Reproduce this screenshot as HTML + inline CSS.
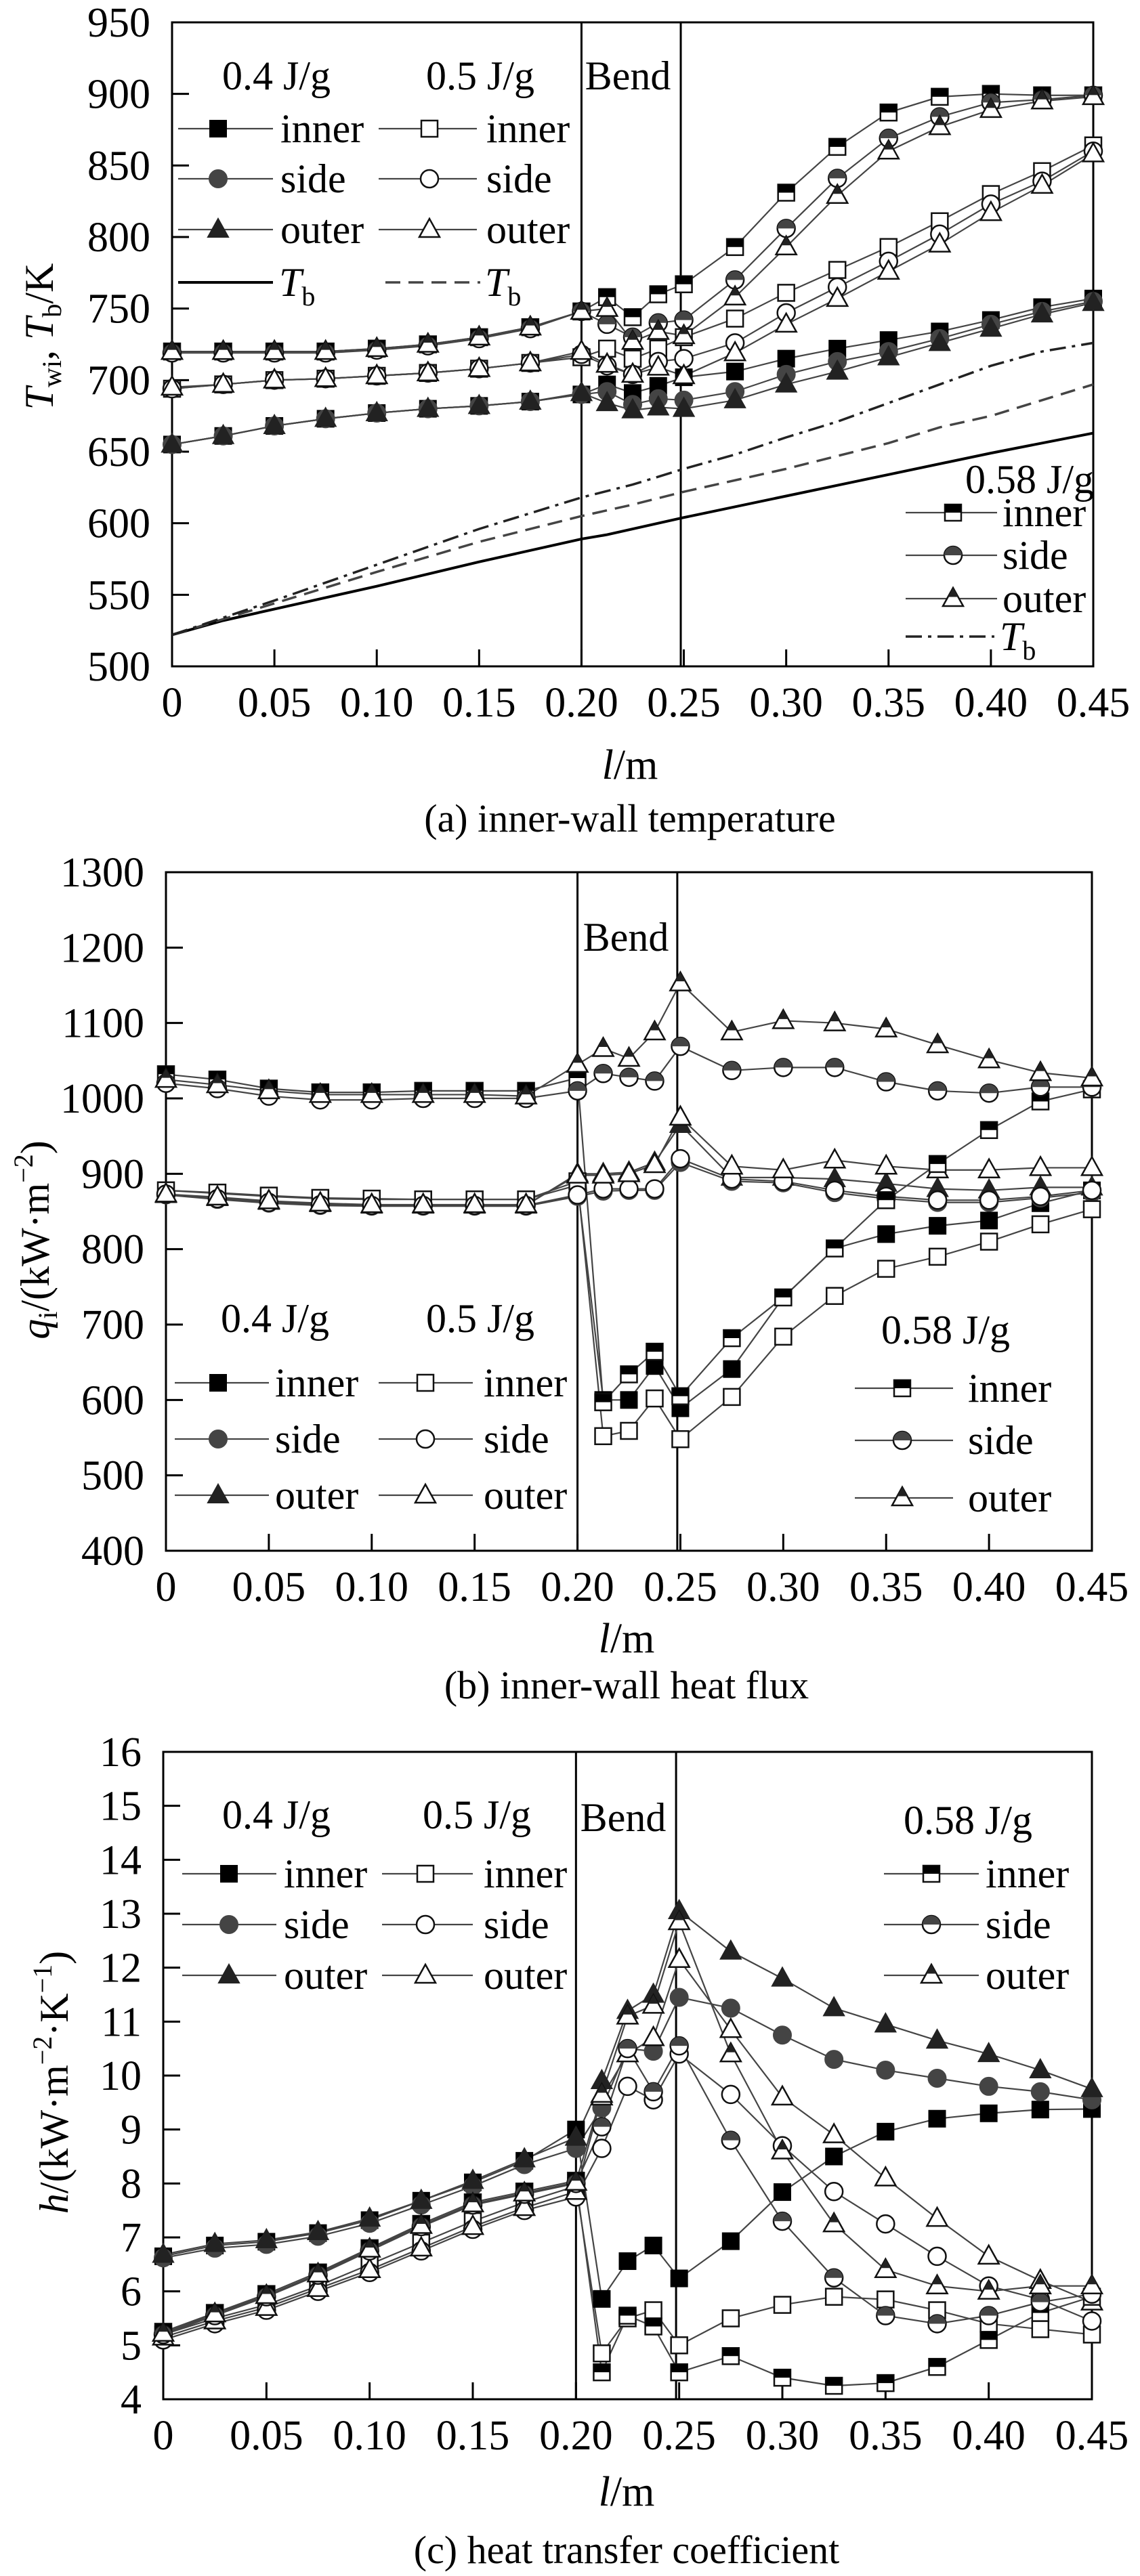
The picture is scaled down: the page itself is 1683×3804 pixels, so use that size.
<!DOCTYPE html>
<html><head><meta charset="utf-8"><style>
html,body{margin:0;padding:0;background:#fff;}
svg{display:block;font-family:"Liberation Serif",serif;}
</style></head><body>
<svg id="fig" width="1683" height="3804" viewBox="0 0 1683 3804" xmlns="http://www.w3.org/2000/svg" font-family="Liberation Serif, serif">
<defs><clipPath id="topHalf" clipPathUnits="objectBoundingBox"><rect x="-0.1" y="-0.1" width="1.2" height="0.6"/></clipPath></defs>
</svg>
<script>
// ---------- shared x positions (l / m) ----------
const xs = [0,0.025,0.05,0.075,0.1,0.125,0.15,0.175,0.2,0.2125,0.225,0.2375,0.25,0.275,0.3,0.325,0.35,0.375,0.4,0.425,0.45];

// ---------- (a) inner-wall temperature, K ----------
const aIn04  = [655,661,668,673,677,680,682,685,690,697,691,696,702,706,715,722,728,734,742,751,757];
const aSi04  = [655,661,668,673,677,680,682,685,690,692,683,687,686,692,704,713,720,729,739,748,755];
const aOu04  = [655,661,668,673,677,680,682,685,691,684,679,681,680,686,697,706,716,726,736,746,754];
const aIn05  = [694,697,700,701,703,705,708,712,716,722,715,722,730,743,761,777,793,811,830,846,864];
const aSi05  = [694,697,700,701,703,705,708,712,718,710,704,713,715,726,747,765,783,802,823,839,860];
const aOu05  = [695,697,700,701,703,705,708,712,720,711,704,709,703,719,739,757,776,795,817,836,858];
const aIn058 = [720,720,720,720,722,725,730,737,748,758,744,760,767,793,831,863,887,898,900,899,899];
const aSi058 = [719,719,719,719,721,724,729,736,748,739,730,740,742,770,806,841,869,884,894,896,899];
const aOu058 = [720,720,720,720,722,725,730,737,748,750,727,734,731,758,793,829,860,877,889,895,898];
const tbX04  = [0,0.025,0.05,0.1,0.15,0.2,0.2125,0.25,0.3,0.35,0.4,0.45];
const tb04   = [522,532,540,556,573,589,592,604,619,634,649,663];
const tbX05  = [0,0.05,0.1,0.15,0.2,0.225,0.25,0.3,0.35,0.375,0.4,0.425,0.45];
const tb05   = [522,544,566,587,605,613,622,638,656,667,675,686,697];
const tbX058 = [0,0.05,0.1,0.15,0.2,0.225,0.25,0.275,0.3,0.325,0.35,0.375,0.4,0.425,0.45];
const tb058  = [522,546,571,596,618,627,638,648,660,671,684,697,710,720,726];
const aTicks = [500,550,600,650,700,750,800,850,900,950];

// ---------- (b) inner-wall heat flux, kW/m2 ----------
const bIn04  = [878,874,870,867,866,866,866,866,885,600,600,645,589,641,736,801,820,831,838,861,878];
const bSi04  = [872,866,861,858,857,857,857,857,870,877,878,878,915,890,888,875,867,862,862,868,875];
const bOu04  = [872,868,863,860,858,858,858,858,900,900,902,915,965,895,895,893,887,880,878,882,882];
const bIn05  = [878,875,871,868,867,866,866,866,890,552,559,602,548,604,684,738,774,790,810,833,853];
const bSi05  = [873,867,862,859,858,858,858,858,872,880,880,880,920,893,890,878,870,865,865,870,878];
const bOu05  = [873,869,864,861,859,859,859,859,898,898,900,912,975,910,905,918,910,905,905,908,908];
const bIn058 = [1032,1025,1013,1008,1008,1010,1010,1010,1027,597,634,664,605,682,736,801,865,913,958,996,1012];
const bSi058 = [1020,1013,1003,998,998,1000,1000,1000,1010,1033,1028,1023,1069,1037,1041,1041,1022,1010,1007,1015,1015];
const bOu058 = [1025,1018,1010,1005,1005,1005,1005,1003,1045,1066,1053,1088,1153,1088,1103,1100,1092,1071,1051,1034,1027];
const bTicks = [400,500,600,700,800,900,1000,1100,1200,1300];

// ---------- (c) heat transfer coefficient ----------
const cIn04  = [6.65,6.85,6.92,7.08,7.32,7.68,8.02,8.42,9.0,5.86,6.56,6.85,6.24,6.93,7.84,8.5,8.96,9.2,9.3,9.37,9.38];
const cSi04  = [6.62,6.8,6.87,7.02,7.26,7.6,7.95,8.35,8.65,9.4,10.5,10.45,11.45,11.25,10.75,10.3,10.1,9.95,9.8,9.7,9.55];
const cOu04  = [6.68,6.88,6.95,7.1,7.35,7.68,8.05,8.45,8.85,9.9,11.2,11.5,13.05,12.3,11.8,11.25,10.95,10.65,10.4,10.1,9.75];
const cIn05  = [5.2,5.5,5.75,6.1,6.5,6.9,7.3,7.65,7.95,4.85,5.5,5.65,5.0,5.5,5.75,5.9,5.85,5.65,5.4,5.3,5.2];
const cSi05  = [5.1,5.4,5.65,6.0,6.35,6.75,7.15,7.5,7.75,8.65,9.8,9.55,10.4,9.65,8.7,7.85,7.25,6.65,6.1,5.85,5.45];
const cOu05  = [5.15,5.45,5.7,6.05,6.4,6.8,7.2,7.55,7.85,9.6,10.4,10.7,12.15,10.85,9.6,8.9,8.1,7.35,6.65,6.2,5.8];
const cIn058 = [5.25,5.6,5.95,6.35,6.8,7.25,7.65,7.85,8.05,4.5,5.55,5.35,4.5,4.8,4.4,4.25,4.3,4.6,5.1,5.6,5.9];
const cSi058 = [5.2,5.55,5.9,6.3,6.75,7.2,7.6,7.8,8.0,9.05,10.5,9.7,10.55,8.8,7.3,6.25,5.55,5.4,5.55,5.8,5.95];
const cOu058 = [5.22,5.58,5.92,6.32,6.78,7.22,7.62,7.82,8.02,9.65,11.1,11.3,12.85,10.4,8.6,7.25,6.4,6.1,6.0,6.1,6.1];
const cTicks = [4,5,6,7,8,9,10,11,12,13,14,15,16];

const xTicks = [0,0.05,0.10,0.15,0.20,0.25,0.30,0.35,0.40,0.45];
const xTickLabels = ["0","0.05","0.10","0.15","0.20","0.25","0.30","0.35","0.40","0.45"];
const bendX = [0.2,0.2485];

const NS = "http://www.w3.org/2000/svg";
const FONT = "Liberation Serif, serif";
const svg = document.getElementById('fig');
function el(tag, attrs, parent){
  const e = document.createElementNS(NS, tag);
  for (const k in attrs) e.setAttribute(k, attrs[k]);
  (parent||svg).appendChild(e);
  return e;
}
function txt(parent, x, y, s, size, anchor){
  const t = el('text', {x:x, y:y, 'font-size':size||60, 'font-family':FONT, 'text-anchor':anchor||'start', fill:'#000'}, parent);
  t.textContent = s;
  return t;
}
const DARK = {sq:'#000', ci:'#444', tr:'#222'};
function marker(g, shape, fill, cx, cy){
  let attrs;
  let tag;
  if (shape==='sq'){ tag='rect'; attrs={x:cx-12,y:cy-12,width:24,height:24}; }
  else if (shape==='ci'){ tag='circle'; attrs={cx:cx,cy:cy,r:13}; }
  else { tag='polygon'; attrs={points:(cx)+','+(cy-16)+' '+(cx-15)+','+(cy+11)+' '+(cx+15)+','+(cy+11)}; }
  const base = Object.assign({}, attrs);
  if (fill==='full'){ base.fill=DARK[shape]; base.stroke=DARK[shape]; base['stroke-width']=2; }
  else { base.fill='#fff'; base.stroke='#111'; base['stroke-width']=2.5; }
  const m = el(tag, base, g);
  
  
  if (fill==='half'){
    const h = Object.assign({}, attrs);
    h.fill=DARK[shape]; h['clip-path']='url(#topHalf)';
    const m2 = el(tag, h, g);
    
    
  }
}

function chart(cfg){
  const g = el('g', {});
  
  
  const sx = v => cfg.L + (v-0)/(0.45)*(cfg.R-cfg.L);
  const sy = v => cfg.B - (v-cfg.ymin)/(cfg.ymax-cfg.ymin)*(cfg.B-cfg.T);
  const fr = el('rect', {x:cfg.L,y:cfg.T,width:cfg.R-cfg.L,height:cfg.B-cfg.T,fill:'none',stroke:'#000','stroke-width':3}, g);
  
  
  cfg.yt.forEach(v=>{
    const y = sy(v);
    if (v!==cfg.ymin && v!==cfg.ymax){
      const t = el('line',{x1:cfg.L,y1:y,x2:cfg.L+25,y2:y,stroke:'#000','stroke-width':3},g);
      
      
    }
    const lb = txt(g, cfg.L-32, y+21, String(v), 62, 'end');
    
    
  });
  xTicks.forEach((v,i)=>{
    const x = sx(v);
    if (i>0 && i<xTicks.length-1){
      const t = el('line',{x1:x,y1:cfg.B,x2:x,y2:cfg.B-25,stroke:'#000','stroke-width':3},g);
      
      
    }
    const lb = txt(g, x, cfg.B+74, xTickLabels[i], 62, 'middle');
    
    
  });
  bendX.forEach(v=>{
    const l = el('line',{x1:sx(v),y1:cfg.T,x2:sx(v),y2:cfg.B,stroke:'#000','stroke-width':3},g);
    
    
  });
  const bt = txt(g, cfg.bendTx, cfg.bendTy, 'Bend', 60, 'middle');
  
  
  (cfg.lines||[]).forEach(ln=>{
    const pts = ln.x.map((v,i)=>sx(v)+','+sy(ln.y[i])).join(' ');
    const p = el('polyline',{points:pts,fill:'none',stroke:ln.color,'stroke-width':ln.w,'stroke-dasharray':ln.dash||'none'},g);
    
    
  });
  cfg.series.forEach(s=>{
    const pts = xs.map((v,i)=>sx(v)+','+sy(s.y[i])).join(' ');
    const p = el('polyline',{points:pts,fill:'none',stroke:'#444','stroke-width':2.2},g);
    
    
  });
  cfg.series.forEach(s=>{
    const mg = el('g',{},g);
    
    
    xs.forEach((v,i)=>marker(mg, s.shape, s.fill, sx(v), sy(s.y[i])));
  });
  return {g, sx, sy};
}

function legendRow(g, x1, x2, mx, tx, y, shape, fill, label){
  const l = el('line',{x1:x1,y1:y,x2:x2,y2:y,stroke:'#444','stroke-width':2.2},g);
  
  
  marker(g, shape, fill, mx, y);
  const t = txt(g, tx, y+20, label, 60, 'start');
  
  
}
function legend(cfg, L){
  const g = el('g',{});
  
  
  const shapes=['sq','ci','tr'], names=['inner','side','outer'];
  const h1 = txt(g, L.c1h, L.hy, '0.4 J/g', 60, 'middle');
  
  
  const h2 = txt(g, L.c2h, L.hy, '0.5 J/g', 60, 'middle');
  
  
  const h3 = txt(g, L.c3h, L.h3y, '0.58 J/g', 60, 'middle');
  
  
  for (let i=0;i<3;i++){
    legendRow(g, L.c1[0], L.c1[1], L.c1[2], L.c1[3], L.rows[i], shapes[i], 'full', names[i]);
    legendRow(g, L.c2[0], L.c2[1], L.c2[2], L.c2[3], L.rows[i], shapes[i], 'open', names[i]);
    legendRow(g, L.c3[0], L.c3[1], L.c3[2], L.c3[3], L.rows3[i], shapes[i], 'half', names[i]);
  }
  return g;
}
function tbText(g, x, y){
  const t = el('text',{x:x,y:y,'font-size':60,'font-family':FONT,fill:'#000'},g);
  
  
  const a = document.createElementNS(NS,'tspan'); a.setAttribute('font-style','italic'); a.textContent='T'; t.appendChild(a);
  const b = document.createElementNS(NS,'tspan'); b.setAttribute('font-size','40'); b.setAttribute('dy','14'); b.textContent='b'; t.appendChild(b);
}

chart({name:'chart-a-temperature', L:254, R:1614, T:33, B:984, ymin:500, ymax:950, yt:aTicks, bendTx:927, bendTy:132,
  lines:[
    {name:'tb-0.4-line', x:tbX04, y:tb04, color:'#000', w:4},
    {name:'tb-0.5-line', x:tbX05, y:tb05, color:'#444', w:3.5, dash:'22,12'},
    {name:'tb-0.58-line', x:tbX058, y:tb058, color:'#222', w:3.5, dash:'24,9,5,9'}],
  series:[
    {name:'a-0.4-inner', y:aIn04, shape:'sq', fill:'full'},
    {name:'a-0.4-side', y:aSi04, shape:'ci', fill:'full'},
    {name:'a-0.4-outer', y:aOu04, shape:'tr', fill:'full'},
    {name:'a-0.5-inner', y:aIn05, shape:'sq', fill:'open'},
    {name:'a-0.5-side', y:aSi05, shape:'ci', fill:'open'},
    {name:'a-0.5-outer', y:aOu05, shape:'tr', fill:'open'},
    {name:'a-0.58-inner', y:aIn058, shape:'sq', fill:'half'},
    {name:'a-0.58-side', y:aSi058, shape:'ci', fill:'half'},
    {name:'a-0.58-outer', y:aOu058, shape:'tr', fill:'half'}]});
const lgA = legend(null, {c1h:408, c2h:709, hy:132, c3h:1520, h3y:728, rows:[190,264,339], rows3:[757,820,884],
  c1:[263,403,322,414], c2:[559,704,634,718], c3:[1337,1472,1407,1480]});
let tl = el('line',{x1:263,y1:417,x2:403,y2:417,stroke:'#000','stroke-width':4},lgA);
 
tbText(lgA, 412, 437);
tl = el('line',{x1:569,y1:417,x2:709,y2:417,stroke:'#444','stroke-width':3.5,'stroke-dasharray':'22,12'},lgA);
 
tbText(lgA, 716, 437);
tl = el('line',{x1:1337,y1:940,x2:1468,y2:940,stroke:'#222','stroke-width':3.5,'stroke-dasharray':'24,9,5,9'},lgA);
 
tbText(lgA, 1476, 960);

chart({name:'chart-b-heat-flux', L:245, R:1612, T:1288, B:2290, ymin:400, ymax:1300, yt:bTicks, bendTx:924, bendTy:1404,
  series:[
    {name:'b-0.4-inner', y:bIn04, shape:'sq', fill:'full'},
    {name:'b-0.4-side', y:bSi04, shape:'ci', fill:'full'},
    {name:'b-0.4-outer', y:bOu04, shape:'tr', fill:'full'},
    {name:'b-0.5-inner', y:bIn05, shape:'sq', fill:'open'},
    {name:'b-0.5-side', y:bSi05, shape:'ci', fill:'open'},
    {name:'b-0.5-outer', y:bOu05, shape:'tr', fill:'open'},
    {name:'b-0.58-inner', y:bIn058, shape:'sq', fill:'half'},
    {name:'b-0.58-side', y:bSi058, shape:'ci', fill:'half'},
    {name:'b-0.58-outer', y:bOu058, shape:'tr', fill:'half'}]});
legend(null, {c1h:406, c2h:709, hy:1967, c3h:1396, h3y:1984, rows:[2042,2125,2208], rows3:[2050,2127,2212],
  c1:[258,397,322,406], c2:[559,698,628,714], c3:[1262,1407,1332,1429]});

chart({name:'chart-c-htc', L:241, R:1612, T:2587, B:3543, ymin:4, ymax:16, yt:cTicks, bendTx:920, bendTy:2704,
  series:[
    {name:'c-0.4-inner', y:cIn04, shape:'sq', fill:'full'},
    {name:'c-0.4-side', y:cSi04, shape:'ci', fill:'full'},
    {name:'c-0.4-outer', y:cOu04, shape:'tr', fill:'full'},
    {name:'c-0.5-inner', y:cIn05, shape:'sq', fill:'open'},
    {name:'c-0.5-side', y:cSi05, shape:'ci', fill:'open'},
    {name:'c-0.5-outer', y:cOu05, shape:'tr', fill:'open'},
    {name:'c-0.58-inner', y:cIn058, shape:'sq', fill:'half'},
    {name:'c-0.58-side', y:cSi058, shape:'ci', fill:'half'},
    {name:'c-0.58-outer', y:cOu058, shape:'tr', fill:'half'}]});
legend(null, {c1h:408, c2h:704, hy:2700, c3h:1429, h3y:2708, rows:[2767,2842,2917], rows3:[2767,2842,2917],
  c1:[269,408,338,419], c2:[564,698,628,714], c3:[1305,1445,1375,1455]});
</script>

<svg style="position:absolute;left:0;top:0;pointer-events:none" width="1683" height="3804" xmlns="http://www.w3.org/2000/svg" font-family="Liberation Serif, serif">
  <text transform="translate(78,497) rotate(-90)" font-size="60" text-anchor="middle"><tspan font-style="italic">T</tspan><tspan font-size="40" dy="12">wi</tspan><tspan dy="-12">, </tspan><tspan font-style="italic">T</tspan><tspan font-size="40" dy="12">b</tspan><tspan dy="-12">/K</tspan></text>
  <text transform="translate(72,1831) rotate(-90)" font-size="60" text-anchor="middle"><tspan font-style="italic">q</tspan><tspan font-size="40" dy="12">i</tspan><tspan dy="-12">/(kW·m</tspan><tspan font-size="40" dy="-24">−2</tspan><tspan dy="24">)</tspan></text>
  <text transform="translate(100,3075) rotate(-90)" font-size="60" text-anchor="middle"><tspan font-style="italic">h</tspan><tspan>/(kW·m</tspan><tspan font-size="40" dy="-24">−2</tspan><tspan dy="24">·K</tspan><tspan font-size="40" dy="-24">−1</tspan><tspan dy="24">)</tspan></text>
  <text x="930" y="1150" font-size="62" text-anchor="middle"><tspan font-style="italic">l</tspan>/m</text>
  <text x="925" y="2440" font-size="62" text-anchor="middle"><tspan font-style="italic">l</tspan>/m</text>
  <text x="925" y="3700" font-size="62" text-anchor="middle"><tspan font-style="italic">l</tspan>/m</text>
  <text x="930" y="1228" font-size="58" text-anchor="middle">(a) inner-wall temperature</text>
  <text x="925" y="2508" font-size="58" text-anchor="middle">(b) inner-wall heat flux</text>
  <text x="925" y="3785" font-size="58" text-anchor="middle">(c) heat transfer coefficient</text>
</svg>
</body></html>
